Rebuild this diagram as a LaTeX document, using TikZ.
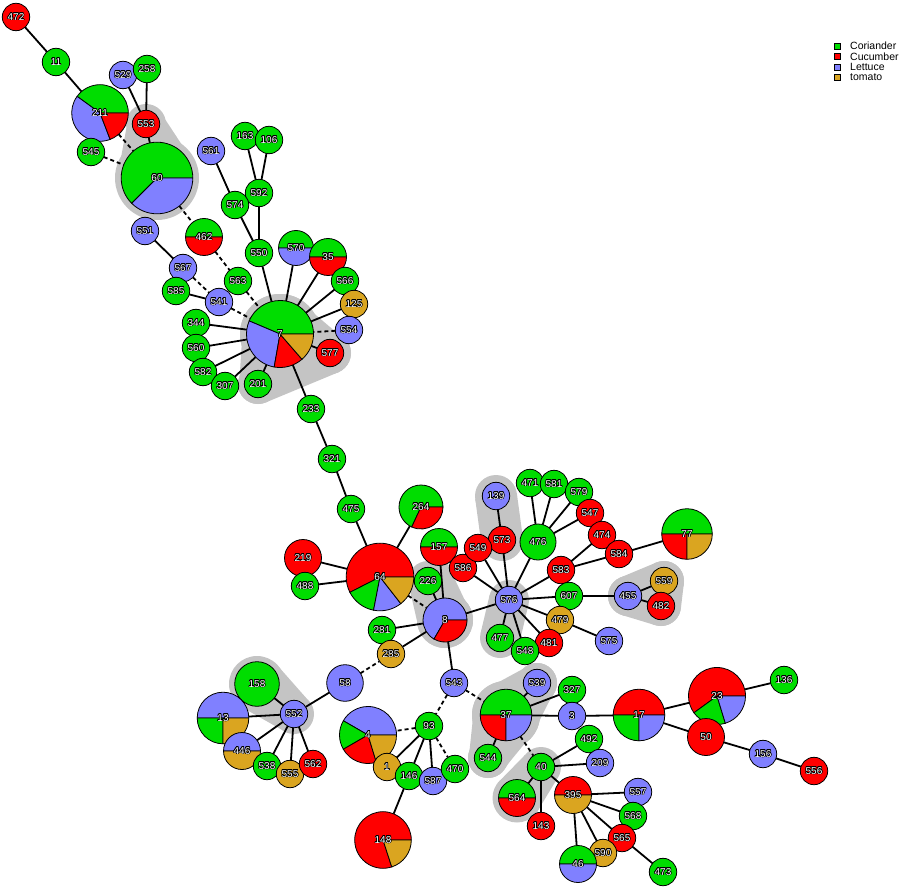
\documentclass[tikz,border=0pt]{standalone}
\usepackage{fontspec}
\setmainfont{Liberation Sans}
\usepackage{contour}
\contourlength{0.55pt}
\usetikzlibrary{calc}
\definecolor{cg}{RGB}{0,221,0}
\definecolor{cr}{RGB}{255,0,0}
\definecolor{cb}{RGB}{128,128,255}
\definecolor{cy}{RGB}{218,165,32}
\definecolor{hullc}{RGB}{196,196,196}
\pgfdeclarelayer{hulls}
\pgfdeclarelayer{edges}
\pgfsetlayers{hulls,edges,main}
\tikzset{
  pienode/.style={circle, inner sep=0pt, outer sep=0pt},
  slice/.style={draw=black, line width=0.8pt},
  lbl/.style={font=\fontsize{10}{11}\selectfont, text=white, inner sep=0pt},
  edge/.style={line width=1.8pt, black},
  dedge/.style={edge, dash pattern=on 4pt off 3pt},
  hull/.style={fill=hullc},
  legtext/.style={font=\fontsize{10.5}{11}\selectfont, anchor=west, inner sep=0pt},
}
% single colour node: name x y r colour
\newcommand\pn[5]{%
  \node[pienode, minimum size=#4*2pt, fill=#5, slice] (n#1) at (#2,#3) {};
  \node[lbl] (l#1) at (n#1.center) {\contour{black}{#1}};
}
% pie node: name x y r slices (a/b/colour)
\newcommand\pp[5]{%
  \node[pienode, minimum size=#4*2pt] (n#1) at (#2,#3) {};
  \foreach \sa/\sb/\sc in {#5}{%
    \filldraw[fill=\sc, slice] (n#1.center) -- ++(\sa:#4pt) arc[start angle=\sa, end angle=\sb, radius=#4pt] -- cycle;}
  \node[lbl] (l#1) at (n#1.center) {\contour{black}{#1}};
}
\newcommand\hp[4]{%
  \fill[hull] (#1.center) circle[radius=#2pt];
  \fill[hull] (#3.center) circle[radius=#4pt];
  \fill[hull] ($(#1.center)!#2pt!90:(#3.center)$) -- ($(#3.center)!#4pt!-90:(#1.center)$)
     -- ($(#3.center)!#4pt!90:(#1.center)$) -- ($(#1.center)!#2pt!-90:(#3.center)$) -- cycle;
}
\begin{document}
\begin{tikzpicture}[x=1pt,y=-1pt]
\useasboundingbox (0,0) rectangle (901,890);
\def\s{13.7}
\def\m{18.5}
% ---------- nodes ----------
\pn{472}{16}{17}{\s}{cr}
\pn{11}{56}{62}{\s}{cg}
\pp{211}{100}{113}{28.3}{0/144/cg,144/291/cb,291/360/cr}
\pn{529}{123}{75}{\s}{cb}
\pn{258}{147}{69}{\s}{cg}
\pn{553}{146}{124}{\s}{cr}
\pn{545}{91}{152}{\s}{cg}
\pp{60}{157}{178}{35.8}{0/225/cg,225/360/cb}
\pn{561}{211}{151}{\s}{cb}
\pn{163}{245}{136}{\s}{cg}
\pn{106}{269}{140}{\s}{cg}
\pn{592}{259}{193}{\s}{cg}
\pn{574}{235}{205}{\s}{cg}
\pn{551}{145}{231}{\s}{cb}
\pp{462}{204}{237}{\m}{0/180/cg,180/360/cr}
\pn{567}{183}{268}{\s}{cb}
\pn{585}{176}{291}{\s}{cg}
\pn{541}{219}{302}{\s}{cb}
\pn{563}{238}{281}{\s}{cg}
\pn{550}{259}{253}{\s}{cg}
\pp{570}{296}{248}{17.5}{0/180/cg,180/360/cb}
\pp{35}{328}{257}{\m}{0/180/cg,180/360/cr}
\pn{566}{345}{281}{\s}{cg}
\pn{125}{354}{304}{\s}{cy}
\pn{554}{349}{330}{\s}{cb}
\pn{577}{330}{353}{\s}{cr}
\pp{7}{280}{334}{33.5}{0/157/cg,157/260/cb,260/311/cr,311/360/cy}
\pn{344}{196}{323}{\s}{cg}
\pn{560}{196}{348}{\s}{cg}
\pn{582}{203}{372}{\s}{cg}
\pn{307}{225}{386}{\s}{cg}
\pn{201}{258}{384}{\s}{cg}
\pn{233}{311}{409}{\s}{cg}
\pn{321}{332}{459}{\s}{cg}
\pn{475}{351}{509}{\s}{cg}
\pp{264}{421}{507}{22}{0/245/cg,245/360/cr}
\pn{219}{303}{558}{\m}{cr}
\pn{488}{305}{586}{\s}{cg}
\pp{64}{380}{577}{33.8}{0/207/cr,207/259/cg,259/308/cb,308/360/cy}
\pp{157}{439}{547}{\m}{0/180/cg,180/360/cr}
\pn{226}{428}{581}{\s}{cg}
\pp{8}{445}{620}{22}{0/240/cb,240/360/cr}
\pn{281}{382}{630}{\s}{cg}
\pn{586}{463}{568}{\s}{cr}
\pn{139}{496}{496}{\s}{cb}
\pn{573}{502}{540}{\s}{cr}
\pn{549}{478}{548}{\s}{cr}
\pn{476}{538}{542}{18}{cg}
\pn{471}{530}{483}{\s}{cg}
\pn{581}{554}{484}{\s}{cg}
\pn{579}{579}{492}{\s}{cg}
\pn{547}{590}{513}{\s}{cr}
\pn{474}{602}{535}{\s}{cr}
\pn{584}{619}{554}{\s}{cr}
\pn{583}{561}{570}{\s}{cr}
\pp{77}{687}{534}{25.3}{0/180/cg,180/270/cr,270/360/cy}
\pn{576}{509}{600}{\s}{cb}
\pn{607}{569}{596}{\s}{cg}
\pn{479}{560}{620}{\s}{cy}
\pn{481}{549}{643}{\s}{cr}
\pn{548}{525}{651}{\s}{cg}
\pn{477}{500}{638}{\s}{cg}
\pn{575}{609}{641}{\s}{cb}
\pn{455}{628}{596}{\s}{cb}
\pn{559}{664}{581}{\s}{cy}
\pn{482}{661}{606}{\s}{cr}
\pp{23}{717}{696}{28.5}{0/216/cr,216/287/cg,287/360/cb}
\pn{136}{784}{680}{\s}{cg}
\pp{17}{639}{715}{25.8}{0/180/cr,180/270/cg,270/360/cb}
\pn{50}{706}{737}{\m}{cr}
\pn{156}{763}{754}{\s}{cb}
\pn{556}{814}{771}{\s}{cr}
\pn{285}{391}{654}{\s}{cy}
\pn{58}{345}{683}{18.3}{cb}
\pn{543}{454}{683}{\s}{cb}
\pn{158}{257}{684}{22.3}{cg}
\pn{552}{294}{714}{\s}{cb}
\pp{13}{223}{718}{25.8}{0/180/cb,180/270/cg,270/360/cy}
\pp{446}{242}{751}{\m}{0/180/cb,180/360/cy}
\pn{538}{267}{766}{\s}{cg}
\pn{555}{290}{774}{\s}{cy}
\pn{562}{313}{764}{\s}{cr}
\pp{4}{368}{735}{28.5}{0/150/cb,150/210/cg,210/287/cr,287/360/cy}
\pn{93}{429}{726}{\s}{cg}
\pn{1}{387}{767}{\s}{cy}
\pn{146}{409}{776}{\s}{cg}
\pn{587}{433}{781}{\s}{cb}
\pn{470}{455}{769}{\s}{cg}
\pp{148}{383}{840}{28.3}{0/288/cr,288/360/cy}
\pn{539}{537}{683}{\s}{cb}
\pn{327}{572}{690}{\s}{cg}
\pp{37}{506}{715}{25.8}{0/180/cg,180/270/cr,270/360/cb}
\pn{3}{572}{716}{\s}{cb}
\pn{544}{488}{758}{\s}{cg}
\pn{40}{541}{767}{\s}{cg}
\pn{492}{589}{739}{\s}{cg}
\pn{209}{600}{763}{\s}{cb}
\pp{564}{517}{798}{\m}{0/180/cg,180/360/cr}
\pn{143}{541}{826}{\s}{cr}
\pp{395}{573}{795}{\m}{0/180/cr,180/360/cy}
\pn{557}{638}{792}{\s}{cb}
\pn{568}{633}{816}{\s}{cg}
\pn{565}{622}{838}{\s}{cr}
\pn{590}{603}{853}{\s}{cy}
\pp{46}{578}{864}{\m}{0/180/cg,180/360/cb}
\pn{473}{663}{872}{\s}{cg}
\coordinate (hc8) at (440,570);
% ---------- hulls ----------
\begin{pgfonlayer}{hulls}
\hp{n60}{42}{n553}{20}
\hp{n7}{40}{n577}{21}
\hp{n7}{40}{n201}{20}
\hp{n577}{21}{n201}{20}
\hp{n8}{28}{n226}{20}
\hp{n8}{28}{hc8}{10}
\hp{n139}{21}{n573}{21}
\hp{n576}{20}{n477}{20}
\hp{n455}{20}{n559}{20}
\hp{n455}{20}{n482}{20}
\hp{n559}{20}{n482}{20}
\hp{n158}{28}{n552}{20}
\hp{n37}{34}{n539}{20}
\hp{n37}{34}{n544}{20}
\hp{n539}{20}{n544}{20}
\hp{n40}{20}{n564}{24.5}
\end{pgfonlayer}
% ---------- edges ----------
\begin{pgfonlayer}{edges}
\foreach \u/\v in {472/11, 11/211, 529/553, 258/553, 553/60,
  551/567, 585/541, 561/574, 163/592, 106/592, 592/550, 574/550, 550/7,
  570/7, 35/7, 566/7, 125/7, 577/7, 344/7, 560/7, 582/7, 307/7, 201/7,
  7/233, 233/321, 321/475, 475/64, 264/64, 219/64, 488/64,
  226/8, 157/8, 281/8, 285/8, 8/576, 8/543,
  586/576, 549/576, 573/576, 139/573, 476/576, 471/476, 581/476, 579/476, 547/476,
  583/576, 583/474, 583/584, 584/77, 607/576, 607/455, 455/559, 455/482,
  479/576, 479/575, 481/576, 548/576, 477/576,
  58/552, 158/552, 13/552, 446/552, 538/552, 555/552, 562/552,
  93/1, 93/146, 93/587, 146/148,
  37/539, 37/327, 37/3, 37/544, 3/17, 17/23, 17/50, 23/136, 50/156, 156/556,
  40/492, 40/209, 40/564, 40/143, 40/395,
  395/557, 395/568, 395/565, 395/590, 395/46, 565/473}
  \draw[edge] (n\u) -- (n\v);
\foreach \u/\v in {211/60, 545/60, 60/462, 462/563, 563/7, 567/541, 541/7, 554/7,
  64/8, 58/285, 543/37, 543/93, 93/4, 93/470, 37/40}
  \draw[dedge] (n\u) -- (n\v);
\end{pgfonlayer}
% ---------- legend ----------
\foreach \t/\c/\y/\k in {Coriander/cg/46/1, Cucumber/cr/56.5/2, Lettuce/cb/67/3, tomato/cy/77.5/4}{
  \filldraw[fill=\c, draw=black, line width=0.6pt] (834,\y-3) rectangle (840,\y+3);
  \node[legtext] (leg\k) at (850,\y) {\t};
}
\end{tikzpicture}
\end{document}
